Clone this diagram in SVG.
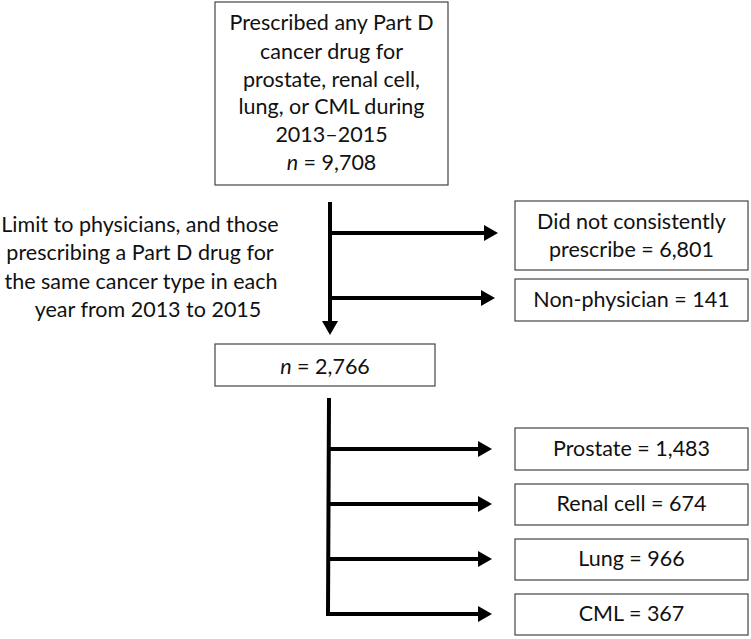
<svg xmlns="http://www.w3.org/2000/svg" width="751" height="639" viewBox="0 0 751 639">
<style>
text{font-family:Lato,"Open Sans","Liberation Sans",sans-serif;font-size:21.5px;fill:#111;text-anchor:middle}
.box{fill:#fff;stroke:#444;stroke-width:1.2}
.con{stroke:#000;stroke-width:4;fill:none}
</style>
<defs>
<marker id="ah" markerUnits="userSpaceOnUse" markerWidth="14" markerHeight="16" refX="0" refY="8" orient="auto">
<path d="M0,0 L14,8 L0,16 z" fill="#000"/>
</marker>
</defs>
<rect width="751" height="639" fill="#fff"/>
<g id="connectors">
<line class="con" x1="330" y1="202" x2="330" y2="321" marker-end="url(#ah)"/>
<line class="con" x1="328" y1="233" x2="484" y2="233" marker-end="url(#ah)"/>
<line class="con" x1="328" y1="298" x2="481" y2="298" marker-end="url(#ah)"/>
<polyline class="con" points="329,398 328,614 478,614" marker-end="url(#ah)"/>
<line class="con" x1="328" y1="449" x2="478" y2="449" marker-end="url(#ah)"/>
<line class="con" x1="328" y1="504" x2="478" y2="504" marker-end="url(#ah)"/>
<line class="con" x1="328" y1="559" x2="478" y2="559" marker-end="url(#ah)"/>
</g>
<g id="start">
<rect class="box" x="215" y="2" width="233" height="183"/>
<text x="331.5" y="30">Prescribed any Part D</text>
<text x="331.5" y="59">cancer drug for</text>
<text x="331.5" y="87">prostate, renal cell,</text>
<text x="331.5" y="114">lung, or CML during</text>
<text x="331.5" y="142">2013–2015</text>
<text x="331.5" y="170"><tspan font-style="italic">n</tspan> = 9,708</text>
</g>
<g id="criteria">
<text x="140" y="232">Limit to physicians, and those</text>
<text x="140" y="260">prescribing a Part D drug for</text>
<text x="141" y="289">the same cancer type in each</text>
<text x="148" y="317">year from 2013 to 2015</text>
</g>
<g id="excl1">
<rect class="box" x="515" y="201" width="233" height="69"/>
<text x="631.5" y="229">Did not consistently</text>
<text x="631.5" y="257">prescribe = 6,801</text>
</g>
<g id="excl2">
<rect class="box" x="515" y="279" width="233" height="42"/>
<text x="631.5" y="307">Non-physician = 141</text>
</g>
<g id="final">
<rect class="box" x="215" y="344" width="220" height="42"/>
<text x="325" y="374"><tspan font-style="italic">n</tspan> = 2,766</text>
</g>
<g id="prostate">
<rect class="box" x="515" y="428" width="233" height="42"/>
<text x="631.5" y="456">Prostate = 1,483</text>
</g>
<g id="renal">
<rect class="box" x="515" y="484" width="233" height="41"/>
<text x="631.5" y="511">Renal cell = 674</text>
</g>
<g id="lung">
<rect class="box" x="515" y="539" width="233" height="41"/>
<text x="631.5" y="566">Lung = 966</text>
</g>
<g id="cml">
<rect class="box" x="515" y="594" width="233" height="41"/>
<text x="631.5" y="621">CML = 367</text>
</g>
</svg>
